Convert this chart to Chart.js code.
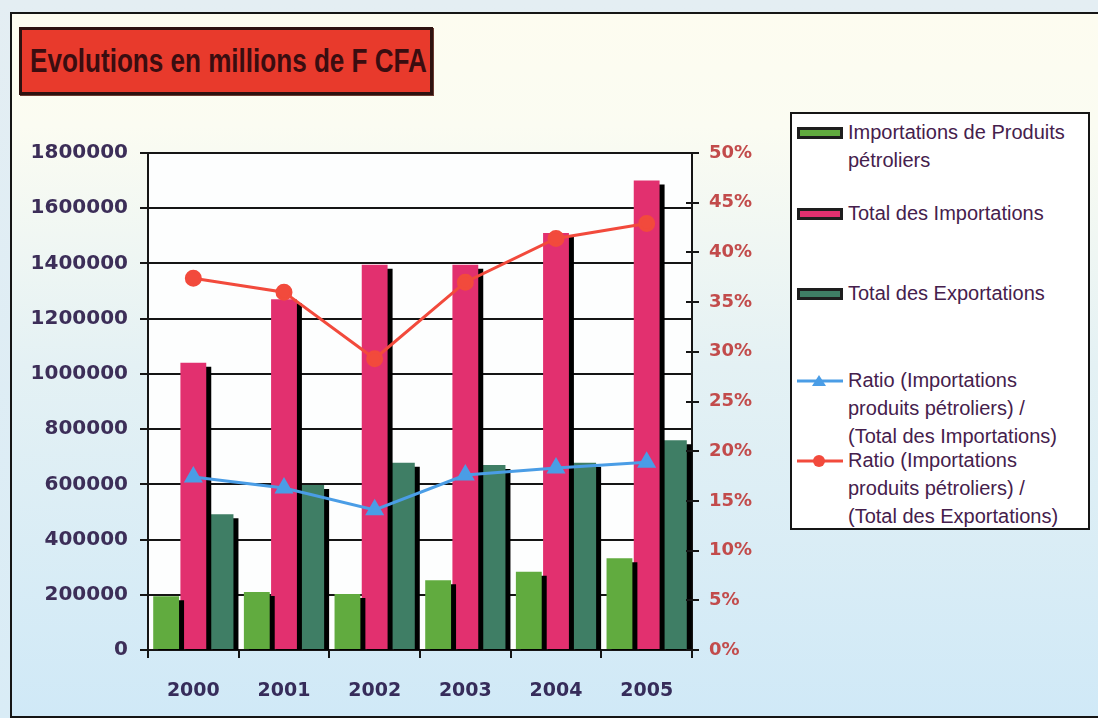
<!DOCTYPE html>
<html>
<head>
<meta charset="utf-8">
<script src="https://cdn.jsdelivr.net/npm/chart.js@4.4.1/dist/chart.umd.min.js"></script>
<style>
  html, body { margin: 0; padding: 0; }
  body {
    width: 1098px; height: 718px; overflow: hidden; position: relative;
    background: linear-gradient(#e4eef3, #d9ecf6);
  }
  #frame {
    position: absolute; left: 10px; top: 12px; width: 1100px; height: 702px;
    border: 2px solid #151515;
    background: linear-gradient(#fdfcf0 0%, #fbfcf2 16%, #e4f1f4 50%, #d0e9f7 100%);
  }
  #titre {
    position: absolute; left: 19px; top: 27px; width: 400px; height: 62px;
    background: #e83a2c; border: 3px solid #2e1210;
    box-shadow: 1px 1px 0 #6a3a30;
    padding-left: 8px; box-sizing: content-box; overflow: hidden;
  }
  #titre span {
    display: inline-block; white-space: nowrap;
    font: bold 33px "Liberation Sans", Arial, sans-serif;
    color: #3a0d10; line-height: 62px;
    transform: scaleX(0.79); transform-origin: 0 50%;
  }
  #myChart { position: absolute; left: 0; top: 0; }
  #legende {
    position: absolute; left: 790px; top: 112px; width: 296px; height: 414px;
    background: #ffffff; border: 2px solid #151515;
  }
  .item { position: absolute; left: 0; width: 100%; }
  .item svg { position: absolute; left: 5px; top: 6px; }
  .item span {
    position: absolute; left: 56px; white-space: pre-line;
    font: 20px "Liberation Sans", Arial, sans-serif;
    line-height: 28px; color: #45204c;
  }
</style>
</head>
<body>
<div id="frame"></div>
<div id="titre"><span>Evolutions en millions de F CFA</span></div>
<canvas id="myChart" width="1098" height="718"></canvas>
<div id="legende"></div>
<script>
// valeurs en millions de F CFA
var annees = ['2000', '2001', '2002', '2003', '2004', '2005'];
var importsPetroliers = [195000, 210000, 203000, 253000, 283000, 332000];
var importsTotal = [1040000, 1270000, 1395000, 1395000, 1510000, 1700000];
var exportsTotal = [492000, 598000, 678000, 670000, 678000, 760000];
// ratios en %
var ratioImports = [17.4, 16.3, 14.1, 17.6, 18.3, 18.9];
var ratioExports = [37.4, 36.0, 29.3, 37.0, 41.4, 42.9];

var ctx = document.getElementById('myChart').getContext('2d');

// fond blanc de la zone de tracé
var fondZone = {
    id: 'fondZone',
    beforeDraw: function (chart) {
        var a = chart.chartArea;
        chart.ctx.save();
        chart.ctx.fillStyle = '#fdfefe';
        chart.ctx.fillRect(a.left, a.top, a.right - a.left, a.bottom - a.top);
        chart.ctx.restore();
    }
};

// ombre noire à droite des barres
var ombreBarres = {
    id: 'ombreBarres',
    beforeDatasetDraw: function (chart, args) {
        if (args.meta.type !== 'bar') return;
        var c = chart.ctx;
        c.save();
        c.shadowColor = '#000';
        c.shadowOffsetX = 5;
        c.shadowOffsetY = 4;
        c.shadowBlur = 0;
    },
    afterDatasetDraw: function (chart, args) {
        if (args.meta.type !== 'bar') return;
        chart.ctx.restore();
    }
};

// graduations de l'axe de droite, de part et d'autre de l'axe
var tiretsDroite = {
    id: 'tiretsDroite',
    afterDraw: function (chart) {
        var s = chart.scales.y1;
        var c = chart.ctx;
        c.save();
        c.strokeStyle = '#151515';
        c.lineWidth = 2;
        s.ticks.forEach(function (t) {
            var y = Math.round(s.getPixelForValue(t.value));
            c.beginPath();
            c.moveTo(s.left - 6, y);
            c.lineTo(s.left + 7, y);
            c.stroke();
        });
        c.restore();
    }
};

var police = 'DejaVu Sans';

var myChart = new Chart(ctx, {
    type: 'bar',
    data: {
        labels: annees,
        datasets: [{
            label: 'Importations de Produits\npétroliers',
            data: importsPetroliers,
            backgroundColor: '#61ab3f',
            yAxisID: 'y',
            order: 1
        }, {
            label: 'Total des Importations',
            data: importsTotal,
            backgroundColor: '#e2306f',
            yAxisID: 'y',
            order: 1
        }, {
            label: 'Total des Exportations',
            data: exportsTotal,
            backgroundColor: '#3f7e65',
            yAxisID: 'y',
            order: 1
        }, {
            type: 'line',
            label: 'Ratio (Importations\nproduits pétroliers) /\n(Total des Importations)',
            data: ratioImports,
            borderColor: '#4a9de6',
            backgroundColor: '#4a9de6',
            borderWidth: 3,
            pointStyle: 'triangle',
            pointRadius: 8,
            yAxisID: 'y1',
            order: 0
        }, {
            type: 'line',
            label: 'Ratio (Importations\nproduits pétroliers) /\n(Total des Exportations)',
            data: ratioExports,
            borderColor: '#f24a3c',
            backgroundColor: '#f24a3c',
            borderWidth: 3,
            pointStyle: 'circle',
            pointRadius: 7,
            yAxisID: 'y1',
            order: 0
        }]
    },
    options: {
        responsive: false,
        maintainAspectRatio: false,
        animation: false,
        layout: { padding: { top: 153, left: 0, right: 0, bottom: 0 } },
        datasets: {
            bar: { categoryPercentage: 0.9, barPercentage: 0.95 }
        },
        plugins: {
            legend: { display: false },
            tooltip: { enabled: false }
        },
        scales: {
            x: {
                grid: { offset: true, drawOnChartArea: false, color: '#151515', lineWidth: 2, tickLength: 8 },
                border: { color: '#151515', width: 2 },
                ticks: { color: '#362c5a', font: { family: police, size: 19, weight: 'bold' }, padding: 22 },
                afterFit: function (s) { s.height = 68; }
            },
            y: {
                position: 'left',
                min: 0,
                max: 1800000,
                ticks: {
                    stepSize: 200000,
                    color: '#3c2e58',
                    font: { family: police, size: 20, weight: 'bold' },
                    padding: 12,
                    callback: function (v) { return String(v); }
                },
                grid: { color: '#151515', lineWidth: 2, tickLength: 8 },
                border: { color: '#151515', width: 2 },
                afterFit: function (s) { s.width = 148; }
            },
            y1: {
                position: 'right',
                min: 0,
                max: 50,
                ticks: {
                    stepSize: 5,
                    color: '#c24b4b',
                    font: { family: police, size: 18, weight: 'bold' },
                    padding: 9,
                    callback: function (v) { return v + '%'; }
                },
                grid: { display: false },
                border: { color: '#151515', width: 2 },
                afterFit: function (s) { s.width = 406; }
            }
        }
    },
    plugins: [fondZone, ombreBarres, tiretsDroite]
});

// légende construite à partir des séries
var legendeTops = [4, 85, 165, 252, 332];
var legende = document.getElementById('legende');
myChart.data.datasets.forEach(function (ds, i) {
    var item = document.createElement('div');
    item.className = 'item';
    item.style.top = legendeTops[i] + 'px';
    var svg;
    if (ds.type === 'line') {
        var marque = ds.pointStyle === 'triangle'
            ? '<polygon points="22,3 29,14 15,14" fill="' + ds.borderColor + '"/>'
            : '<circle cx="22" cy="9" r="6" fill="' + ds.borderColor + '"/>';
        svg = '<svg width="46" height="18"><line x1="0" y1="9" x2="46" y2="9" stroke="' +
            ds.borderColor + '" stroke-width="3"/>' + marque + '</svg>';
    } else {
        svg = '<svg width="46" height="18"><rect x="1.5" y="4.5" width="43" height="9" fill="' +
            ds.backgroundColor + '" stroke="#1e1e1e" stroke-width="3"/></svg>';
    }
    item.innerHTML = svg + '<span></span>';
    item.querySelector('span').textContent = ds.label;
    legende.appendChild(item);
});
</script>
</body>
</html>
